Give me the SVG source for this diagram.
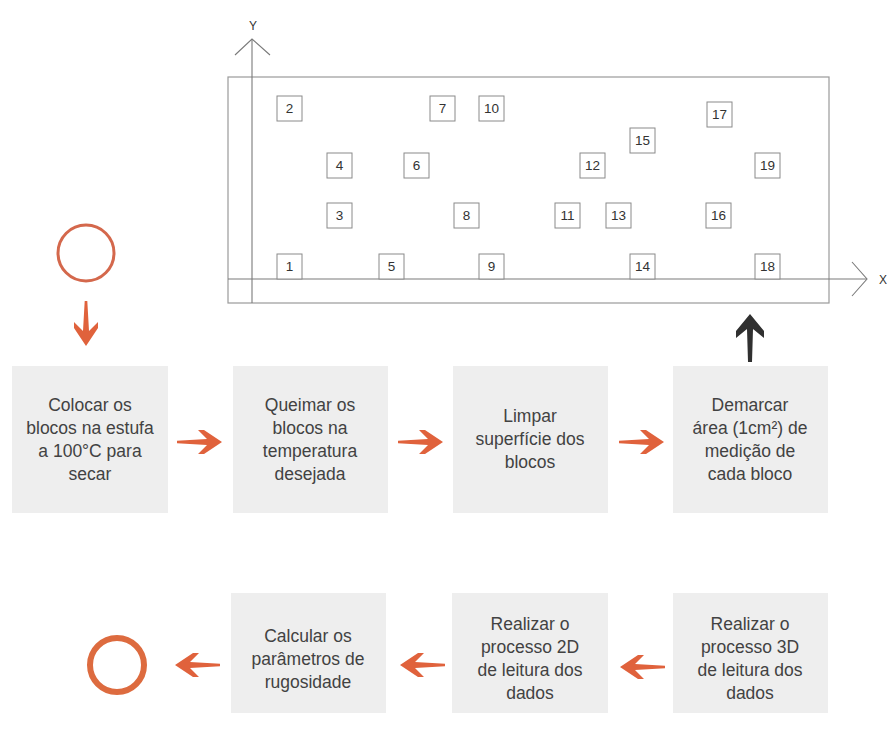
<svg xmlns="http://www.w3.org/2000/svg" xmlns:xlink="http://www.w3.org/1999/xlink" width="887" height="734" viewBox="0 0 887 734">
  <style>
    .plate { fill: none; stroke: #9a9a9a; stroke-width: 1.2; }
    .axis { fill: none; stroke: #7a7a7a; stroke-width: 1.1; }
    .axlbl { font-family: "Liberation Sans", Arial, sans-serif; font-size: 12px; fill: #333; text-anchor: middle; }
    .blk rect { fill: #ffffff; stroke: #8a8a8a; stroke-width: 1; }
    .blk text { font-family: "Liberation Sans", Arial, sans-serif; font-size: 13.5px; fill: #333; text-anchor: middle; }
    .step rect { fill: #eeeeee; }
    .step text { font-family: "Liberation Sans", Arial, sans-serif; font-size: 17.5px; fill: #424242; text-anchor: middle; }
    .flow { fill: #e0623c; }
    .up { fill: #303030; }
  </style>
  <defs>
    <!-- orange flow arrow, tip at origin, pointing +x -->
    <path id="arr" d="M0,0 L-18,-12 L-24,-12 L-15,-3 L-45,-1.3 L-45,1.3 L-15,3 L-24,12 L-18,12 Z"/>
    <!-- dark arrow, tip at origin, pointing +x -->
    <path id="arrDark" d="M0,0 L-17,-14 L-24,-14 L-15,-3 L-48,-2 L-48,2 L-15,3 L-24,14 L-17,14 Z"/>
  </defs>

  <!-- sample plate with block layout -->
  <g id="plate">
    <rect class="plate" x="228" y="77" width="601" height="226"/>
    <!-- Y axis -->
    <line class="axis" x1="252" y1="39" x2="252" y2="303"/>
    <polyline class="axis" points="235,55 252,39 270,55"/>
    <text class="axlbl" x="253" y="30">Y</text>
    <!-- X axis -->
    <line class="axis" x1="228" y1="279" x2="867" y2="279"/>
    <polyline class="axis" points="852,262 867,279 852,296"/>
    <text class="axlbl" x="883" y="284">X</text>
  </g>

  <g id="blocks">
    <g class="blk" id="b1"><rect x="277" y="254" width="25" height="25"/><text x="289.5" y="271">1</text></g>
    <g class="blk" id="b2"><rect x="277" y="96" width="25" height="25"/><text x="289.5" y="113">2</text></g>
    <g class="blk" id="b3"><rect x="327" y="203" width="25" height="25"/><text x="339.5" y="220">3</text></g>
    <g class="blk" id="b4"><rect x="327" y="153" width="25" height="25"/><text x="339.5" y="170">4</text></g>
    <g class="blk" id="b5"><rect x="379" y="254" width="25" height="25"/><text x="391.5" y="271">5</text></g>
    <g class="blk" id="b6"><rect x="404" y="153" width="25" height="25"/><text x="416.5" y="170">6</text></g>
    <g class="blk" id="b7"><rect x="430" y="96" width="25" height="25"/><text x="442.5" y="113">7</text></g>
    <g class="blk" id="b8"><rect x="454" y="203" width="25" height="25"/><text x="466.5" y="220">8</text></g>
    <g class="blk" id="b9"><rect x="479" y="254" width="25" height="25"/><text x="491.5" y="271">9</text></g>
    <g class="blk" id="b10"><rect x="479" y="96" width="25" height="25"/><text x="491.5" y="113">10</text></g>
    <g class="blk" id="b11"><rect x="555" y="203" width="25" height="25"/><text x="567.5" y="220">11</text></g>
    <g class="blk" id="b12"><rect x="580" y="153" width="25" height="25"/><text x="592.5" y="170">12</text></g>
    <g class="blk" id="b13"><rect x="606" y="203" width="25" height="25"/><text x="618.5" y="220">13</text></g>
    <g class="blk" id="b14"><rect x="630" y="254" width="25" height="25"/><text x="642.5" y="271">14</text></g>
    <g class="blk" id="b15"><rect x="630" y="128" width="25" height="25"/><text x="642.5" y="145">15</text></g>
    <g class="blk" id="b16"><rect x="706" y="203" width="25" height="25"/><text x="718.5" y="220">16</text></g>
    <g class="blk" id="b17"><rect x="707" y="102" width="25" height="25"/><text x="719.5" y="119">17</text></g>
    <g class="blk" id="b18"><rect x="755" y="254" width="25" height="25"/><text x="767.5" y="271">18</text></g>
    <g class="blk" id="b19"><rect x="755" y="153" width="25" height="25"/><text x="767.5" y="170">19</text></g>
  </g>

  <!-- start / end terminals -->
  <g id="start"><circle cx="86" cy="253" r="28" fill="none" stroke="#d4684c" stroke-width="3"/></g>
  <g id="end"><circle cx="117" cy="665" r="27" fill="none" stroke="#dd6b3f" stroke-width="6"/></g>

  <!-- process steps -->
  <g class="step" id="s1">
    <rect x="12" y="366" width="156" height="147"/>
    <text x="90" y="411">Colocar os</text>
    <text x="90" y="434">blocos na estufa</text>
    <text x="90" y="457">a 100°C para</text>
    <text x="90" y="480">secar</text>
  </g>
  <g class="step" id="s2">
    <rect x="233" y="366" width="155" height="147"/>
    <text x="310" y="411">Queimar os</text>
    <text x="310" y="434">blocos na</text>
    <text x="310" y="457">temperatura</text>
    <text x="310" y="480">desejada</text>
  </g>
  <g class="step" id="s3">
    <rect x="453" y="366" width="155" height="147"/>
    <text x="530" y="422">Limpar</text>
    <text x="530" y="445">superfície dos</text>
    <text x="530" y="468">blocos</text>
  </g>
  <g class="step" id="s4">
    <rect x="673" y="366" width="155" height="147"/>
    <text x="750" y="411">Demarcar</text>
    <text x="750" y="434">área (1cm²) de</text>
    <text x="750" y="457">medição de</text>
    <text x="750" y="480">cada bloco</text>
  </g>
  <g class="step" id="s5">
    <rect x="673" y="593" width="155" height="120"/>
    <text x="750" y="630">Realizar o</text>
    <text x="750" y="653">processo 3D</text>
    <text x="750" y="676">de leitura dos</text>
    <text x="750" y="699">dados</text>
  </g>
  <g class="step" id="s6">
    <rect x="452" y="593" width="156" height="120"/>
    <text x="530" y="630">Realizar o</text>
    <text x="530" y="653">processo 2D</text>
    <text x="530" y="676">de leitura dos</text>
    <text x="530" y="699">dados</text>
  </g>
  <g class="step" id="s7">
    <rect x="231" y="593" width="155" height="120"/>
    <text x="308" y="642">Calcular os</text>
    <text x="308" y="665">parâmetros de</text>
    <text x="308" y="688">rugosidade</text>
  </g>

  <!-- connectors -->
  <g id="connectors">
    <use class="flow" xlink:href="#arr" transform="translate(86,346) rotate(90)"/>
    <use class="flow" xlink:href="#arr" transform="translate(222,442)"/>
    <use class="flow" xlink:href="#arr" transform="translate(443,442)"/>
    <use class="flow" xlink:href="#arr" transform="translate(664,442)"/>
    <use class="up" xlink:href="#arrDark" transform="translate(750,314) rotate(-90)"/>
    <use class="flow" xlink:href="#arr" transform="translate(620,667) rotate(180)"/>
    <use class="flow" xlink:href="#arr" transform="translate(400,665) rotate(180)"/>
    <use class="flow" xlink:href="#arr" transform="translate(175,665) rotate(180)"/>
  </g>
</svg>
